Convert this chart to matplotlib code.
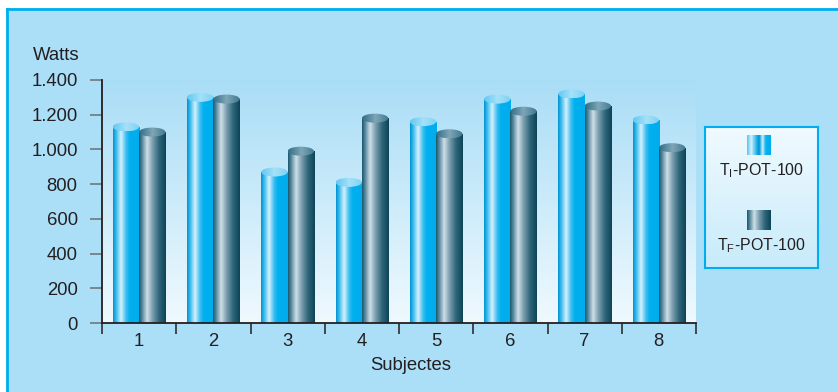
import numpy as np
import matplotlib
matplotlib.use("Agg")
import matplotlib.pyplot as plt
from matplotlib.patches import Ellipse, Rectangle
from matplotlib.lines import Line2D
from matplotlib.colors import LinearSegmentedColormap
from matplotlib.ticker import FuncFormatter, FixedLocator

plt.rcParams["font.family"] = ["Liberation Sans", "DejaVu Sans"]

# data
subjects = ["1", "2", "3", "4", "5", "6", "7", "8"]
ti_pot = [1130, 1300, 870, 810, 1160, 1290, 1320, 1170]
tf_pot = [1100, 1290, 990, 1180, 1090, 1220, 1250, 1010]
y_ticks = [0, 200, 400, 600, 800, 1000, 1200, 1400]
series_labels = [r"T$_\mathregular{I}$-POT-100", r"T$_\mathregular{F}$-POT-100"]

BG = "#abdff8"
TEXT = "#231f20"
CYAN = "#00aeef"
FS = 13.3

light_body = LinearSegmentedColormap.from_list("light", [
    (0.0, "#0092d2"), (0.12, "#3cbdee"), (0.3, "#d6f1fc"),
    (0.48, "#3fbff0"), (0.62, "#00b0f0"), (1.0, "#00acec")])
dark_body = LinearSegmentedColormap.from_list("dark", [
    (0.0, "#1b566d"), (0.1, "#4c8198"), (0.3, "#cfdfe7"),
    (0.5, "#7d9fb0"), (0.75, "#2e6579"), (1.0, "#0c4356")])
light_top = LinearSegmentedColormap.from_list("ltop", ["#5fc9f2", "#a6e1f8", "#7ad2f4"])
dark_top = LinearSegmentedColormap.from_list("dtop", ["#2f6d84", "#7fa6b7", "#3f7890"])

fig = plt.figure(figsize=(8.38, 3.92), dpi=100)
fig.patch.set_facecolor(BG)

# white frame strips and cyan border lines (top and left)
H, W = 392.0, 838.0
fig.patches.append(Rectangle((0, 1 - 8 / H), 1, 8 / H, transform=fig.transFigure,
                             facecolor="white", edgecolor="none", zorder=0))
fig.patches.append(Rectangle((0, 0), 5.5 / W, 1, transform=fig.transFigure,
                             facecolor="white", edgecolor="none", zorder=0))
fig.lines.append(Line2D([6.5 / W, 1], [1 - 8.7 / H] * 2, transform=fig.transFigure,
                        color=CYAN, lw=2))
fig.lines.append(Line2D([6.5 / W] * 2, [0, 1 - 8.7 / H], transform=fig.transFigure,
                        color=CYAN, lw=2))

ax = fig.add_axes([102 / W, 1 - 323 / H, 594 / W, 243 / H])
ax.patch.set_visible(False)

# plot area gradient
vgrad = np.linspace(0, 1, 128).reshape(-1, 1)
bg_cmap = LinearSegmentedColormap.from_list("bg", ["#eff9fe", "#a9ddf6"])
ax.imshow(vgrad, cmap=bg_cmap, extent=(0, 1, 0, 1), transform=ax.transAxes,
          origin="lower", aspect="auto", zorder=0, interpolation="bilinear")

x = np.arange(1, len(subjects) + 1)
bw = 0.355
ell_h = 52

hgrad = np.linspace(0, 1, 128).reshape(1, -1)


def cylinders(bars, body_cmap, top_cmap, z):
    for p in bars:
        x0, w, h = p.get_x(), p.get_width(), p.get_height()
        im = ax.imshow(hgrad, cmap=body_cmap, extent=(x0, x0 + w, 0, h),
                       aspect="auto", zorder=z, interpolation="bilinear")
        im.set_clip_path(p)
        ell = Ellipse((x0 + w / 2, h), w, ell_h, facecolor="none",
                      edgecolor="none", zorder=z + 0.1)
        ax.add_patch(ell)
        im2 = ax.imshow(hgrad, cmap=top_cmap,
                        extent=(x0, x0 + w, h - ell_h / 2, h + ell_h / 2),
                        aspect="auto", zorder=z + 0.1, interpolation="bilinear")
        im2.set_clip_path(ell)


bars_i = ax.bar(x - bw / 2, ti_pot, bw, facecolor="none", edgecolor="none", zorder=2)
bars_f = ax.bar(x + bw / 2, tf_pot, bw, facecolor="none", edgecolor="none", zorder=2)
cylinders(bars_i, light_body, light_top, 2)
cylinders(bars_f, dark_body, dark_top, 3)

ax.set_xlim(0.5, len(subjects) + 0.5)
ax.set_ylim(0, 1400)
ax.set_aspect("auto")

for s in ["top", "right"]:
    ax.spines[s].set_visible(False)
for s in ["left", "bottom"]:
    ax.spines[s].set_color(TEXT)
    ax.spines[s].set_linewidth(1.3)
    ax.spines[s].set_zorder(5)

ax.set_yticks(y_ticks)
ax.yaxis.set_major_formatter(FuncFormatter(lambda v, _: f"{v:,.0f}".replace(",", ".")))
ax.tick_params(axis="y", direction="out", length=8.5, width=1.1, color="#6d6e71",
               pad=9, labelsize=FS, labelcolor=TEXT)

ax.set_xticks(x)
ax.set_xticklabels(subjects)
ax.xaxis.set_minor_locator(FixedLocator(np.arange(0.5, len(subjects) + 1, 1.0)))
ax.tick_params(axis="x", which="major", length=0, pad=7, labelsize=FS, labelcolor=TEXT)
ax.tick_params(axis="x", which="minor", direction="out", length=8, width=1.1, color=TEXT)

fig.text(33 / W, 1 - 56 / H, "Watts", ha="left", va="center", fontsize=FS, color=TEXT)
fig.text(411 / W, 1 - 366 / H, "Subjectes", ha="center", va="center", fontsize=FS, color=TEXT)

# legend box
lg = fig.add_axes([705 / W, 1 - 268 / H, 113 / W, 141 / H])
lg.imshow(np.linspace(0, 1, 64).reshape(-1, 1),
          cmap=LinearSegmentedColormap.from_list("lg", ["#f0faff", "#c8ebfa"]),
          extent=(0, 113, 141, 0), aspect="auto", interpolation="bilinear", zorder=0)
lg.set_xticks([])
lg.set_yticks([])
for s in lg.spines.values():
    s.set_color(CYAN)
    s.set_linewidth(1.5)

swatch_grad = np.concatenate([np.linspace(0.62, 0.3, 40), np.linspace(0.3, 1, 40)]).reshape(1, -1)
for (y0, cmap, label) in [(8, light_body, series_labels[0]), (83, dark_body, series_labels[1])]:
    lg.imshow(swatch_grad if cmap is light_body else hgrad, cmap=cmap,
              extent=(42, 66, y0 + 20, y0), aspect="auto", interpolation="bilinear", zorder=1)
    lg.text(56.5, y0 + 36, label, ha="center", va="center", fontsize=11.5, color=TEXT)
lg.set_xlim(0, 113)
lg.set_ylim(141, 0)

fig.savefig("out.png", dpi=100, facecolor=fig.get_facecolor())
